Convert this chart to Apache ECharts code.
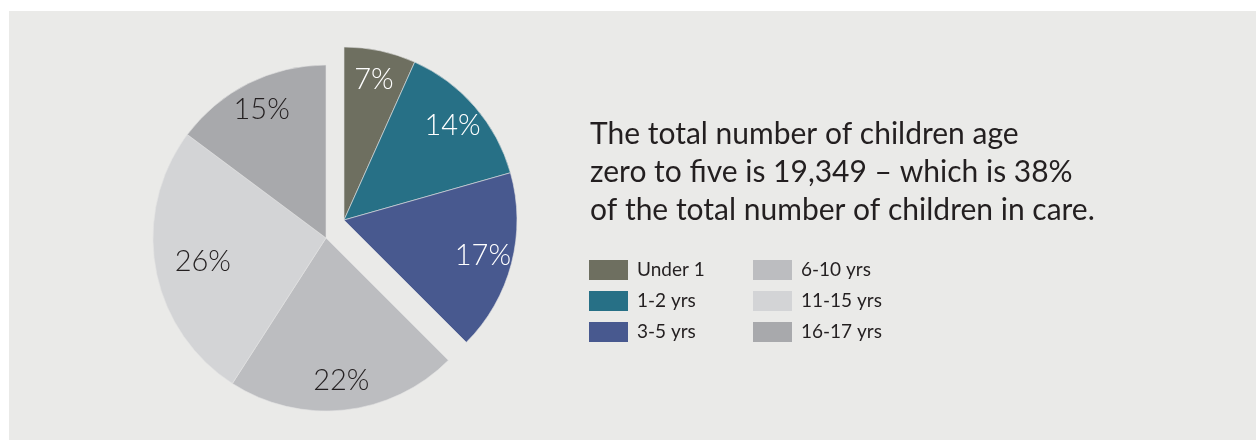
<!DOCTYPE html>
<html><head><meta charset="utf-8">
<script src="https://cdn.jsdelivr.net/npm/echarts@6/dist/echarts.min.js"></script>
<style>
html,body{margin:0;padding:0;background:#ffffff;}
#panel{position:absolute;left:9px;top:11px;width:1247px;height:429px;background:#eaeae8;}
#chart{position:absolute;left:0;top:0;width:1256px;height:440px;}
</style></head><body>
<div id="panel"></div><div id="chart"></div>
<script>
// ---- data ----
const categories = ['Under 1', '1-2 yrs', '3-5 yrs', '6-10 yrs', '11-15 yrs', '16-17 yrs'];
const shares = [6.7, 13.9, 16.9, 21.6, 26.1, 14.8];           // percent of children in care
const explodedGroup = ['Under 1', '1-2 yrs', '3-5 yrs'];      // age zero to five
const titleLines = [
  'The total number of children age',
  'zero to five is 19,349 \u2013 which is 38%',
  'of the total number of children in care.'
];
const legendColumns = [
  ['Under 1', '1-2 yrs', '3-5 yrs'],
  ['6-10 yrs', '11-15 yrs', '16-17 yrs']
];

// ---- styles ----
const COLORS = {
  'Under 1': '#6e6f60', '1-2 yrs': '#277086', '3-5 yrs': '#48598f',
  '6-10 yrs': '#bcbdc0', '11-15 yrs': '#d3d4d6', '16-17 yrs': '#a8a9ac'
};
const LABEL_COLORS = {
  'Under 1': '#ffffff', '1-2 yrs': '#ffffff', '3-5 yrs': '#ffffff',
  '6-10 yrs': '#231f20', '11-15 yrs': '#231f20', '16-17 yrs': '#231f20'
};
const LABEL_NUDGE = { '11-15 yrs': [18, -2] };
const FONT = 'Lato, "Open Sans", sans-serif';
const R = 173;

const total = shares.reduce((a, b) => a + b, 0);
const items = categories.map((c, i) => ({ name: c, value: shares[i] }));
const groupA = items.filter(d => explodedGroup.includes(d.name));
const groupB = items.filter(d => !explodedGroup.includes(d.name));
const sumA = groupA.reduce((a, d) => a + d.value, 0);
const sumB = groupB.reduce((a, d) => a + d.value, 0);

function gap(v) {
  return { value: v, itemStyle: { color: 'rgba(0,0,0,0)', borderWidth: 0 }, label: { show: false } };
}
function solid(d) {
  return { name: d.name, value: d.value, itemStyle: { color: COLORS[d.name] } };
}
function labelOnly(d) {
  return { value: d.value, cat: d.name, itemStyle: { color: 'rgba(0,0,0,0)', borderWidth: 0 },
           label: { color: LABEL_COLORS[d.name] } };
}

const pieBase = {
  type: 'pie', startAngle: 90, clockwise: true, animation: false,
  avoidLabelOverlap: false, selectedMode: false, emphasis: { disabled: true },
  labelLine: { show: false }
};

const centerA = [344, 220], centerB = [326, 238];
const labelStyle = { show: true, position: 'inside', fontFamily: FONT, fontSize: 29, fontWeight: 300,
                     formatter: p => Math.round(p.value) + '%' };

function nudge(data) {
  return function (params) {
    const d = data[params.dataIndex];
    const n = d && d.cat && LABEL_NUDGE[d.cat];
    return n ? { dx: n[0], dy: n[1] } : {};
  };
}

const ringA = groupA.map(labelOnly).concat([gap(total - sumA)]);
const ringB = [gap(total - sumB)].concat(groupB.map(labelOnly));

const option = {
  backgroundColor: 'transparent',
  animation: false,
  title: {
    text: titleLines.join('\n'),
    left: 590, top: 115, padding: 0,
    textStyle: { fontFamily: FONT, fontSize: 30, fontWeight: 'normal', lineHeight: 38, color: '#231f20' }
  },
  legend: legendColumns.map((col, k) => ({
    data: col,
    orient: 'vertical',
    left: k === 0 ? 589 : 753, top: 260,
    padding: 0,
    itemWidth: 39, itemHeight: 20, itemGap: 11,
    icon: 'rect',
    itemStyle: { borderWidth: 0 },
    selectedMode: false,
    textStyle: { fontFamily: FONT, fontSize: 19, fontWeight: 'normal', lineHeight: 20, color: '#231f20',
                 padding: [0, 0, 0, 4] }
  })),
  series: [
    Object.assign({}, pieBase, {
      name: 'zero to five', center: centerA, radius: [0, R],
      itemStyle: { borderColor: '#e2e3e3', borderWidth: 0.6 },
      label: { show: false },
      data: groupA.map(solid).concat([gap(total - sumA)])
    }),
    Object.assign({}, pieBase, {
      name: 'six to seventeen', center: centerB, radius: [0, R],
      itemStyle: { borderColor: '#e2e3e3', borderWidth: 0.6 },
      label: { show: false },
      data: [gap(total - sumB)].concat(groupB.map(solid))
    }),
    Object.assign({}, pieBase, {
      silent: true, center: centerA, radius: [108, R],
      label: labelStyle, labelLayout: nudge(ringA),
      data: ringA
    }),
    Object.assign({}, pieBase, {
      silent: true, center: centerB, radius: [108, R],
      label: labelStyle, labelLayout: nudge(ringB),
      data: ringB
    })
  ]
};

const chart = echarts.init(document.getElementById('chart'), null, { renderer: 'canvas' });
chart.setOption(option);
</script>
</body></html>
